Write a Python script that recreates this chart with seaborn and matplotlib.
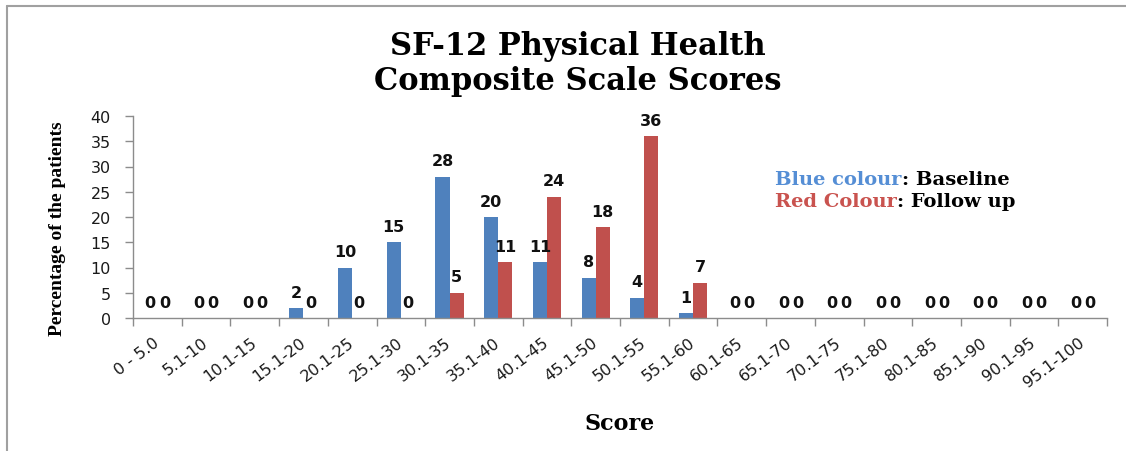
import numpy as np
import pandas as pd
import seaborn as sns
import matplotlib.pyplot as plt
from matplotlib.lines import Line2D

# score bands and percentages
categories = ["0 - 5.0", "5.1-10", "10.1-15", "15.1-20", "20.1-25", "25.1-30",
              "30.1-35", "35.1-40", "40.1-45", "45.1-50", "50.1-55", "55.1-60",
              "60.1-65", "65.1-70", "70.1-75", "75.1-80", "80.1-85", "85.1-90",
              "90.1-95", "95.1-100"]
baseline = [0, 0, 0, 2, 10, 15, 28, 20, 11, 8, 4, 1, 0, 0, 0, 0, 0, 0, 0, 0]
follow_up = [0, 0, 0, 0, 0, 0, 5, 11, 24, 18, 36, 7, 0, 0, 0, 0, 0, 0, 0, 0]
groups = ["Baseline", "Follow up"]
yticks = [0, 5, 10, 15, 20, 25, 30, 35, 40]

df = pd.DataFrame({
    "Score": categories * 2,
    "Percentage": baseline + follow_up,
    "Group": [groups[0]] * len(categories) + [groups[1]] * len(categories),
})

blue = "#4F81BD"
red = "#C0504D"
grey = "#8C8C8C"

sns.set_style("white")
plt.rcParams["font.family"] = ["DejaVu Sans"]
plt.rcParams["text.color"] = "black"

fig = plt.figure(figsize=(11.26, 4.52), dpi=100)
ax = fig.add_axes([133 / 1126, 1 - 319 / 452, 974 / 1126, 202 / 452])

sns.barplot(data=df, x="Score", y="Percentage", hue="Group", order=categories,
            hue_order=groups, palette=[blue, red], width=0.58, gap=0,
            saturation=1, linewidth=0, legend=False, ax=ax)

for cont in ax.containers:
    ax.bar_label(cont, fmt="%g", padding=6, fontsize=11.5, fontweight="bold",
                 color="#111111")

ax.set_xlim(-0.5, len(categories) - 0.5)
ax.set_ylim(0, 40)
ax.set_yticks(yticks)
ax.set_xticks(np.arange(-0.5, len(categories), 1), minor=True)
ax.tick_params(axis="x", which="major", length=0, pad=16, labelsize=11.5,
               labelcolor="#1a1a1a")
ax.tick_params(axis="x", which="minor", length=6, width=1, color=grey,
               direction="out", bottom=True)
ax.tick_params(axis="y", length=6, width=1, color=grey, direction="out",
               left=True, pad=10, labelsize=11.5, labelcolor="#1a1a1a")
plt.setp(ax.get_xticklabels(), rotation=37, ha="right", va="center",
         rotation_mode="anchor")

sns.despine(ax=ax)
for side in ["left", "bottom"]:
    ax.spines[side].set_color(grey)
    ax.spines[side].set_linewidth(1)

ax.set_xlabel("")
ax.set_ylabel("")

# titles and labels
fig.text(578 / 1126, 1 - 64 / 452, "SF-12 Physical Health\nComposite Scale Scores",
         ha="center", va="center", fontsize=22, fontweight="bold",
         family="DejaVu Serif", linespacing=1.2, color="black")
fig.text(620 / 1126, 1 - 430 / 452, "Score", ha="center", va="baseline",
         fontsize=16, fontweight="bold", family="DejaVu Serif")
fig.text(57 / 1126, 1 - 229 / 452, "Percentage of the patients", rotation=90,
         ha="center", va="center", fontsize=14, fontweight="bold",
         family="Liberation Serif")

# colour key written as text
t1 = fig.text(775 / 1126, 1 - 185 / 452, "Blue colour", color="#558ED5",
              fontsize=14, fontweight="bold", family="DejaVu Serif", va="baseline")
ax.annotate(": Baseline", xy=(1, 0), xycoords=t1, va="bottom", fontsize=14,
            fontweight="bold", family="DejaVu Serif", color="black")
t2 = fig.text(775 / 1126, 1 - 207 / 452, "Red Colour", color="#C9534F",
              fontsize=14, fontweight="bold", family="DejaVu Serif", va="baseline")
ax.annotate(": Follow up", xy=(1, 0), xycoords=t2, va="bottom", fontsize=14,
            fontweight="bold", family="DejaVu Serif", color="black")

# frame lines of the original picture
fig.add_artist(Line2D([7 / 1126, 7 / 1126], [0, 1 - 7 / 452], color="#A0A0A0", lw=1.5))
fig.add_artist(Line2D([7 / 1126, 1], [1 - 7 / 452, 1 - 7 / 452], color="#A0A0A0", lw=1.5))

fig.savefig("out.png", dpi=100)
